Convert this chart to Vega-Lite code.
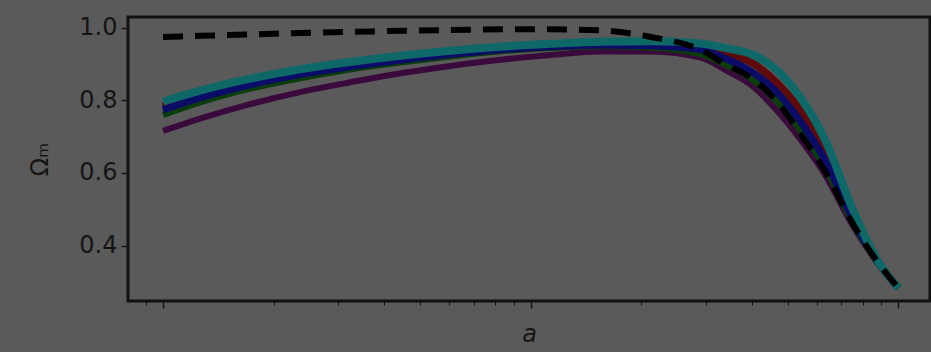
{
  "$schema": "https://vega.github.io/schema/vega-lite/v6.json",
  "autosize": "none",
  "width": 802,
  "height": 284,
  "padding": {"left": 128, "top": 17, "right": 1, "bottom": 51},
  "background": "#5a5a5a",
  "config": {
    "view": {"stroke": "#111111", "strokeWidth": 3, "fill": "#5a5a5a"},
    "font": "DejaVu Sans",
    "axis": {"grid": false, "domain": false, "labelColor": "#151515", "titleColor": "#151515", "tickColor": "#151515", "labelFont": "DejaVu Sans", "titleFont": "DejaVu Sans"}
  },
  "title": {"text": "a", "fontStyle": "italic", "fontSize": 24, "fontWeight": "normal", "color": "#151515", "baseline": "alphabetic", "offset": 14, "font": "DejaVu Sans"},
  "data": {"values": [
    {"s": "purple", "a": 0.01, "om": 0.716}, {"s": "purple", "a": 0.01261, "om": 0.750}, {"s": "purple", "a": 0.01726, "om": 0.790}, {"s": "purple", "a": 0.02361, "om": 0.823}, {"s": "purple", "a": 0.03232, "om": 0.850}, {"s": "purple", "a": 0.04425, "om": 0.875}, {"s": "purple", "a": 0.06053, "om": 0.895}, {"s": "purple", "a": 0.08286, "om": 0.912}, {"s": "purple", "a": 0.1134, "om": 0.925}, {"s": "purple", "a": 0.1551, "om": 0.935}, {"s": "purple", "a": 0.2123, "om": 0.935}, {"s": "purple", "a": 0.2905, "om": 0.918}, {"s": "purple", "a": 0.3399, "om": 0.883}, {"s": "purple", "a": 0.3977, "om": 0.843}, {"s": "purple", "a": 0.4652, "om": 0.775}, {"s": "purple", "a": 0.5441, "om": 0.690}, {"s": "purple", "a": 0.6366, "om": 0.590}, {"s": "purple", "a": 0.7446, "om": 0.462}, {"s": "purple", "a": 0.8711, "om": 0.357}, {"s": "purple", "a": 1.0, "om": 0.283},
    {"s": "red", "a": 0.01, "om": 0.783}, {"s": "red", "a": 0.01261, "om": 0.815}, {"s": "red", "a": 0.01726, "om": 0.850}, {"s": "red", "a": 0.02361, "om": 0.877}, {"s": "red", "a": 0.03232, "om": 0.898}, {"s": "red", "a": 0.04425, "om": 0.916}, {"s": "red", "a": 0.06053, "om": 0.931}, {"s": "red", "a": 0.08286, "om": 0.943}, {"s": "red", "a": 0.1134, "om": 0.952}, {"s": "red", "a": 0.1551, "om": 0.957}, {"s": "red", "a": 0.2123, "om": 0.957}, {"s": "red", "a": 0.2905, "om": 0.950}, {"s": "red", "a": 0.3399, "om": 0.930}, {"s": "red", "a": 0.3977, "om": 0.905}, {"s": "red", "a": 0.4652, "om": 0.850}, {"s": "red", "a": 0.5441, "om": 0.770}, {"s": "red", "a": 0.6366, "om": 0.655}, {"s": "red", "a": 0.7446, "om": 0.495}, {"s": "red", "a": 0.8711, "om": 0.363}, {"s": "red", "a": 1.0, "om": 0.283},
    {"s": "green", "a": 0.01, "om": 0.760}, {"s": "green", "a": 0.01261, "om": 0.795}, {"s": "green", "a": 0.01726, "om": 0.833}, {"s": "green", "a": 0.02361, "om": 0.862}, {"s": "green", "a": 0.03232, "om": 0.886}, {"s": "green", "a": 0.04425, "om": 0.905}, {"s": "green", "a": 0.06053, "om": 0.922}, {"s": "green", "a": 0.08286, "om": 0.936}, {"s": "green", "a": 0.1134, "om": 0.945}, {"s": "green", "a": 0.1551, "om": 0.950}, {"s": "green", "a": 0.2123, "om": 0.946}, {"s": "green", "a": 0.2905, "om": 0.928}, {"s": "green", "a": 0.3399, "om": 0.898}, {"s": "green", "a": 0.3977, "om": 0.860}, {"s": "green", "a": 0.4652, "om": 0.800}, {"s": "green", "a": 0.5441, "om": 0.715}, {"s": "green", "a": 0.6366, "om": 0.610}, {"s": "green", "a": 0.7446, "om": 0.472}, {"s": "green", "a": 0.8711, "om": 0.359}, {"s": "green", "a": 1.0, "om": 0.283},
    {"s": "blue", "a": 0.01, "om": 0.774}, {"s": "blue", "a": 0.01261, "om": 0.807}, {"s": "blue", "a": 0.01726, "om": 0.843}, {"s": "blue", "a": 0.02361, "om": 0.871}, {"s": "blue", "a": 0.03232, "om": 0.893}, {"s": "blue", "a": 0.04425, "om": 0.911}, {"s": "blue", "a": 0.06053, "om": 0.927}, {"s": "blue", "a": 0.08286, "om": 0.940}, {"s": "blue", "a": 0.1134, "om": 0.948}, {"s": "blue", "a": 0.1551, "om": 0.953}, {"s": "blue", "a": 0.2123, "om": 0.951}, {"s": "blue", "a": 0.2905, "om": 0.940}, {"s": "blue", "a": 0.3399, "om": 0.915}, {"s": "blue", "a": 0.3977, "om": 0.880}, {"s": "blue", "a": 0.4652, "om": 0.825}, {"s": "blue", "a": 0.5441, "om": 0.740}, {"s": "blue", "a": 0.6366, "om": 0.630}, {"s": "blue", "a": 0.7446, "om": 0.483}, {"s": "blue", "a": 0.8711, "om": 0.361}, {"s": "blue", "a": 1.0, "om": 0.283},
    {"s": "teal", "a": 0.01, "om": 0.797}, {"s": "teal", "a": 0.01261, "om": 0.827}, {"s": "teal", "a": 0.01726, "om": 0.860}, {"s": "teal", "a": 0.02361, "om": 0.886}, {"s": "teal", "a": 0.03232, "om": 0.906}, {"s": "teal", "a": 0.04425, "om": 0.923}, {"s": "teal", "a": 0.06053, "om": 0.937}, {"s": "teal", "a": 0.08286, "om": 0.948}, {"s": "teal", "a": 0.1134, "om": 0.956}, {"s": "teal", "a": 0.1551, "om": 0.962}, {"s": "teal", "a": 0.2123, "om": 0.963}, {"s": "teal", "a": 0.2905, "om": 0.957}, {"s": "teal", "a": 0.3399, "om": 0.944}, {"s": "teal", "a": 0.3977, "om": 0.928}, {"s": "teal", "a": 0.4652, "om": 0.886}, {"s": "teal", "a": 0.5441, "om": 0.805}, {"s": "teal", "a": 0.6366, "om": 0.685}, {"s": "teal", "a": 0.7446, "om": 0.510}, {"s": "teal", "a": 0.8711, "om": 0.365}, {"s": "teal", "a": 1.0, "om": 0.283},
    {"s": "black", "a": 0.01, "om": 0.975}, {"s": "black", "a": 0.01261, "om": 0.978}, {"s": "black", "a": 0.01726, "om": 0.982}, {"s": "black", "a": 0.02361, "om": 0.986}, {"s": "black", "a": 0.03232, "om": 0.989}, {"s": "black", "a": 0.04425, "om": 0.992}, {"s": "black", "a": 0.06053, "om": 0.994}, {"s": "black", "a": 0.08286, "om": 0.996}, {"s": "black", "a": 0.1134, "om": 0.996}, {"s": "black", "a": 0.1551, "om": 0.993}, {"s": "black", "a": 0.2123, "om": 0.975}, {"s": "black", "a": 0.2905, "om": 0.939}, {"s": "black", "a": 0.3399, "om": 0.899}, {"s": "black", "a": 0.3977, "om": 0.862}, {"s": "black", "a": 0.4652, "om": 0.800}, {"s": "black", "a": 0.5441, "om": 0.705}, {"s": "black", "a": 0.6366, "om": 0.600}, {"s": "black", "a": 0.7446, "om": 0.468}, {"s": "black", "a": 0.8711, "om": 0.360}, {"s": "black", "a": 1.0, "om": 0.283}
  ]},
  "encoding": {
    "x": {"field": "a", "type": "quantitative", "scale": {"type": "log", "domain": [0.00803, 1.22], "nice": false}},
    "y": {"field": "om", "type": "quantitative", "scale": {"domain": [0.247, 1.030], "nice": false, "zero": false}}
  },
  "layer": [
    {
      "transform": [{"filter": "datum.s != 'black'"}],
      "mark": {"type": "line", "strokeCap": "butt", "interpolate": "monotone", "clip": true},
      "encoding": {
        "x": {"field": "a", "type": "quantitative", "axis": {"title": "a", "titleFontStyle": "italic", "titleFontSize": 24, "titleFontWeight": "normal", "titlePadding": 14, "labels": false, "values": [0.01, 0.1, 1], "tickSize": 7, "tickWidth": 1.5, "orient": "bottom"}},
        "y": {"field": "om", "type": "quantitative", "axis": {"title": "Ωₘ", "titleFontSize": 24, "titleFontWeight": "normal", "titlePadding": 26, "labelFontSize": 24, "labelPadding": 4, "values": [0.4, 0.6, 0.8, 1.0], "format": ".1f", "tickSize": 7, "tickWidth": 1.5}},
        "color": {"field": "s", "type": "nominal", "legend": null, "scale": {"domain": ["teal", "red", "blue", "green", "purple"], "range": ["#0f6868", "#5e0a0a", "#0b0b68", "#0b3d0b", "#3a0a3c"]}},
        "strokeWidth": {"field": "s", "type": "nominal", "legend": null, "scale": {"domain": ["teal", "red", "blue", "green", "purple"], "range": [8, 6, 6, 6, 6]}},
        "order": {"field": "a", "type": "quantitative"}
      }
    },
    {
      "transform": [{"filter": "datum.s == 'black'"}],
      "mark": {"type": "line", "color": "#000000", "strokeWidth": 6, "strokeDash": [20, 12], "interpolate": "monotone", "clip": true},
      "encoding": {
        "x": {"field": "a", "type": "quantitative", "axis": {"title": null, "labels": false, "values": [0.008, 0.009, 0.02, 0.03, 0.04, 0.05, 0.06, 0.07, 0.08, 0.09, 0.2, 0.3, 0.4, 0.5, 0.6, 0.7, 0.8, 0.9], "tickSize": 4, "tickWidth": 1, "orient": "bottom"}}
      }
    }
  ],
  "resolve": {"axis": {"x": "independent"}}
}
